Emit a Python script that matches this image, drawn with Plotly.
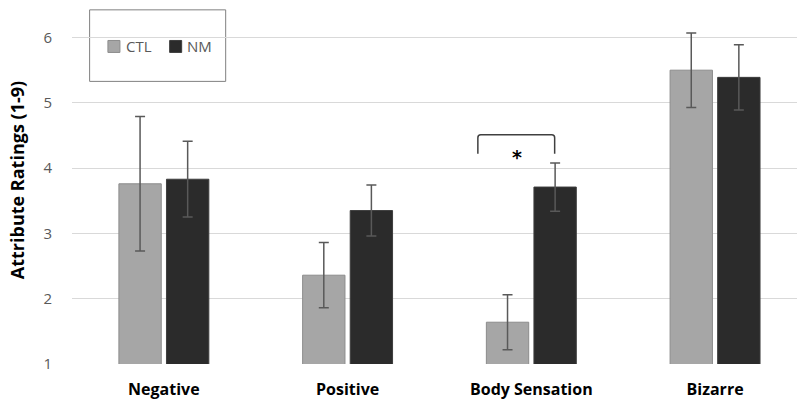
import plotly.graph_objects as go

categories = ["Negative", "Positive", "Body Sensation", "Bizarre"]
ctl_mean = [3.76, 2.36, 1.64, 5.50]
ctl_err = [1.03, 0.50, 0.42, 0.57]
nm_mean = [3.83, 3.35, 3.71, 5.39]
nm_err = [0.58, 0.39, 0.37, 0.50]
y_ticks = [1, 2, 3, 4, 5, 6]
series_names = ["CTL", "NM"]
series_colors = ["#a6a6a6", "#2b2b2b"]
series_edges = ["#8c8c8c", "#3d3d3d"]

W, H = 797, 400
ML, MR, MT, MB = 72.4, 0, 30.5, 35.7
PW, PH = W - ML - MR, H - MT - MB


def px_x(p):
    return (p - ML) / PW


def px_y(p):
    return (H - MB - p) / PH


fig = go.Figure()
for name, vals, errs, col, edge in zip(series_names, [ctl_mean, nm_mean], [ctl_err, nm_err],
                                       series_colors, series_edges):
    fig.add_trace(go.Bar(
        name=name, x=categories, y=vals, showlegend=False,
        marker=dict(color=col, line=dict(color=edge, width=1)),
        error_y=dict(type="data", array=errs, color="#595959", thickness=1.5, width=5),
    ))

# significance bracket over Body Sensation
bx0, bx1, btop, bend = 1.709, 2.127, 4.51, 4.22
rx, ry = 0.016, 0.045
path = (f"M {bx0},{bend} L {bx0},{btop-ry} Q {bx0},{btop} {bx0+rx},{btop} "
        f"L {bx1-rx},{btop} Q {bx1},{btop} {bx1},{btop-ry} L {bx1},{bend}")
fig.add_shape(type="path", path=path, xref="x", yref="y",
              line=dict(color="#404040", width=1.5))
fig.add_annotation(x=1.922, y=4.17, xref="x", yref="y", text="<b>*</b>", showarrow=False,
                   font=dict(family="DejaVu Sans", size=19, color="#000000"))

# legend box
fig.add_shape(type="rect", xref="paper", yref="paper", x0=px_x(90), x1=px_x(226),
              y0=px_y(81), y1=px_y(9.3),
              line=dict(color="#808080", width=1), fillcolor="white", layer="below")
sw_x = [108.3, 170]
tx_x = [124, 185.5]
for name, col, edge, sx, tx in zip(series_names, series_colors, series_edges, sw_x, tx_x):
    fig.add_shape(type="rect", xref="paper", yref="paper", x0=px_x(sx), x1=px_x(sx + 12),
                  y0=px_y(52), y1=px_y(40), fillcolor=col, line=dict(color=edge, width=1))
    fig.add_annotation(xref="paper", yref="paper", x=px_x(tx), y=px_y(46), xanchor="left",
                       yanchor="middle", text=name, showarrow=False,
                       font=dict(family="Open Sans", size=15, color="#595959"))

fig.add_annotation(xref="paper", yref="paper", x=px_x(17.5), y=px_y(180), xanchor="center",
                   yanchor="middle", text="<b>Attribute Ratings (1-9)</b>", textangle=-90,
                   showarrow=False, font=dict(family="Open Sans", size=18, color="#000000"))

fig.update_layout(
    width=W, height=H,
    margin=dict(l=ML, r=MR, t=MT, b=MB, autoexpand=False),
    paper_bgcolor="white", plot_bgcolor="white",
    barmode="group", bargap=0.482, bargroupgap=0.11,
    font=dict(family="Open Sans", color="#595959"),
    showlegend=False,
)
fig.update_xaxes(range=[-0.5, 3.446], showgrid=False, showline=False, ticks="", automargin=False,
                 ticklabelstandoff=14,
                 tickfont=dict(family="Open Sans", size=16, color="#000000", weight="bold"))
fig.update_yaxes(range=[1, 6.1], tickvals=y_ticks, showgrid=True, gridcolor="#d9d9d9",
                 gridwidth=1, zeroline=False, showline=False, ticks="", automargin=False,
                 ticklabelstandoff=19,
                 tickfont=dict(family="Open Sans", size=15, color="#595959"))

fig.write_html("out.html", config={"displayModeBar": False},
               post_script="document.body.style.margin='0';document.body.style.overflow='hidden';")
